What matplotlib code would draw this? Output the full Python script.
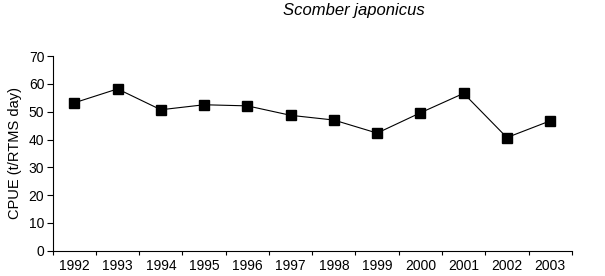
import numpy as np
import matplotlib.pyplot as plt

plt.rcParams['font.family'] = ['Liberation Sans', 'DejaVu Sans']

years = ['1992', '1993', '1994', '1995', '1996', '1997',
         '1998', '1999', '2000', '2001', '2002', '2003']
cpue = [53.2, 58.2, 50.7, 52.5, 52.1, 48.7, 47.0, 42.3, 49.6, 56.6, 40.7, 46.7]

fig = plt.figure(figsize=(6.05, 2.76), dpi=100)
ax = fig.add_axes([0.0871, 0.0917, 0.858, 0.705])

x = np.arange(len(years))
ax.plot(x, cpue, color='black', linewidth=0.8, marker='s',
        markersize=6.5, markerfacecolor='black', markeredgecolor='black')

ax.set_xlim(-0.5, len(years) - 0.5)
ax.set_ylim(0, 70)
ax.set_yticks(range(0, 71, 10))
ax.set_xticks(x)
ax.set_xticklabels(years)
# tick marks sit between categories
ax.set_xticks(np.arange(-0.5, len(years), 1), minor=True)
ax.tick_params(axis='x', which='major', length=0, pad=6, labelsize=10)
ax.tick_params(axis='x', which='minor', length=3, direction='out', width=0.8)
ax.tick_params(axis='y', length=4, direction='out', width=0.8, labelsize=10, pad=2)

for s in ['top', 'right']:
    ax.spines[s].set_visible(False)
for s in ['left', 'bottom']:
    ax.spines[s].set_linewidth(0.8)

ax.set_ylabel('CPUE (t/RTMS day)', fontsize=10.5, labelpad=5)
fig.text(0.585, 0.963, 'Scomber japonicus', style='italic', fontsize=12,
         ha='center', va='center')

fig.savefig('out.png', dpi=100)
